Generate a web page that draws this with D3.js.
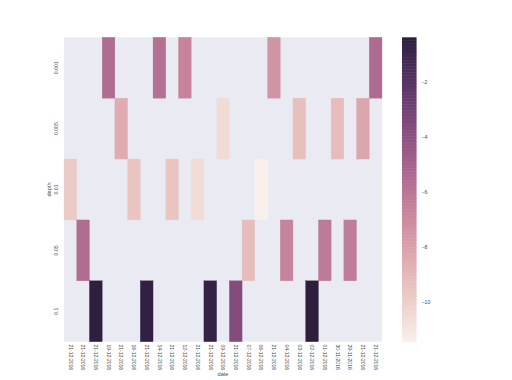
<!DOCTYPE html>
<html><head><meta charset="utf-8">
<script src="https://cdn.jsdelivr.net/npm/d3@7"></script>
<style>body{margin:0;background:#fff;}svg{display:block;font-family:"Liberation Sans",Arial,sans-serif;}</style>
</head><body>
<svg id="c" width="512" height="380"></svg>
<script>
const dates = ["21-12-2016","21-12-2016","21-12-2016","19-12-2016","21-12-2016","16-12-2016","21-12-2016","14-12-2016","21-12-2016","12-12-2016","21-12-2016","21-12-2016","09-12-2016","21-12-2016","07-12-2016","06-12-2016","21-12-2016","04-12-2016","03-12-2016","02-12-2016","01-12-2016","30-11-2016","29-11-2016","21-12-2016","21-12-2016"];
const depths = ["0.001","0.005","0.01","0.05","0.1"];
const cellDepth = ["0.01","0.05","0.1","0.001","0.005","0.01","0.1","0.001","0.01","0.001","0.01","0.1","0.005","0.1","0.05","0.01","0.001","0.05","0.005","0.1","0.05","0.005","0.05","0.005","0.001"];
const cellValue = [-9.8,-5.5,-0.4,-5.5,-8.5,-9.5,-0.5,-5.7,-9.5,-6.6,-10.5,-0.6,-10.5,-3.6,-9.2,-11.42,-7.4,-6.6,-9.3,-0.36,-6.2,-9.2,-6.3,-8.2,-5.4];
const cbTicks = [-2,-4,-6,-8,-10];

// seaborn cubehelix_palette(light=.95, as_cmap=True)
function cubehelix(x){
  const start=0, rot=0.4, gamma=1, hue=0.8;
  const xg = Math.pow(x,gamma);
  const a = hue*xg*(1-xg)/2;
  const phi = 2*Math.PI*(start/3 + rot*x);
  const f=(p0,p1)=>Math.max(0,Math.min(1,xg + a*(p0*Math.cos(phi)+p1*Math.sin(phi))));
  return d3.rgb(255*f(-0.14861,1.78277),255*f(-0.29227,-0.90649),255*f(1.97294,0)).formatHex();
}
const light=0.95, dark=0.15;
const ext = d3.extent(cellValue);
const tScale = d3.scaleLinear().domain(ext).range([light,dark]).clamp(true);
const color = v => cubehelix(tScale(v));

const svg = d3.select("#c");
const L=64, R=382, T=37.3, B=341.7;
const x = d3.scaleBand().domain(d3.range(dates.length)).range([L,R]);
const y = d3.scaleBand().domain(depths).range([T,B]);

svg.append("rect").attr("x",L).attr("y",T).attr("width",R-L).attr("height",B-T).attr("fill","#EAEAF2");

svg.append("g").selectAll("rect").data(cellValue).join("rect")
  .attr("x",(d,i)=>x(i)).attr("y",(d,i)=>y(cellDepth[i]))
  .attr("width",x.bandwidth()).attr("height",y.bandwidth())
  .attr("fill",d=>color(d)).attr("stroke",d=>color(d)).attr("stroke-width",0.3);

const txt="#4a4a4a";
// x tick labels
svg.append("g").selectAll("text").data(dates).join("text")
  .attr("transform",(d,i)=>`translate(${x(i)+x.bandwidth()/2},344.5) rotate(90)`)
  .attr("dy","0.35em").attr("font-size",5).attr("fill",txt).text(d=>d);
// y tick labels
svg.append("g").selectAll("text").data(depths).join("text")
  .attr("transform",d=>`translate(58,${y(d)+y.bandwidth()/2}) rotate(-90)`)
  .attr("text-anchor","middle").attr("font-size",5.2).attr("fill",txt).text(d=>d);
svg.append("text").attr("x",(L+R)/2).attr("y",376).attr("text-anchor","middle")
  .attr("font-size",5.6).attr("fill",txt).text("date");
svg.append("text").attr("transform",`translate(51,${(T+B)/2}) rotate(-90)`).attr("text-anchor","middle")
  .attr("font-size",5.6).attr("fill",txt).text("depth");

// colorbar
const cbX=402, cbW=14.5;
const cy = d3.scaleLinear().domain(ext).range([B,T]);
const n=200;
const steps = d3.range(n).map(i=>ext[0]+(ext[1]-ext[0])*i/n);
svg.append("g").selectAll("rect").data(steps).join("rect")
  .attr("x",cbX).attr("width",cbW)
  .attr("y",d=>cy(d+(ext[1]-ext[0])/n)).attr("height",(B-T)/n+0.5)
  .attr("fill",d=>color(d+(ext[1]-ext[0])/(2*n)));
svg.append("g").selectAll("text").data(cbTicks).join("text")
  .attr("x",421.5).attr("y",d=>cy(d)).attr("dy","0.35em")
  .attr("font-size",5.2).attr("fill",txt).text(d=>d3.format("")(d));
</script>
</body></html>
